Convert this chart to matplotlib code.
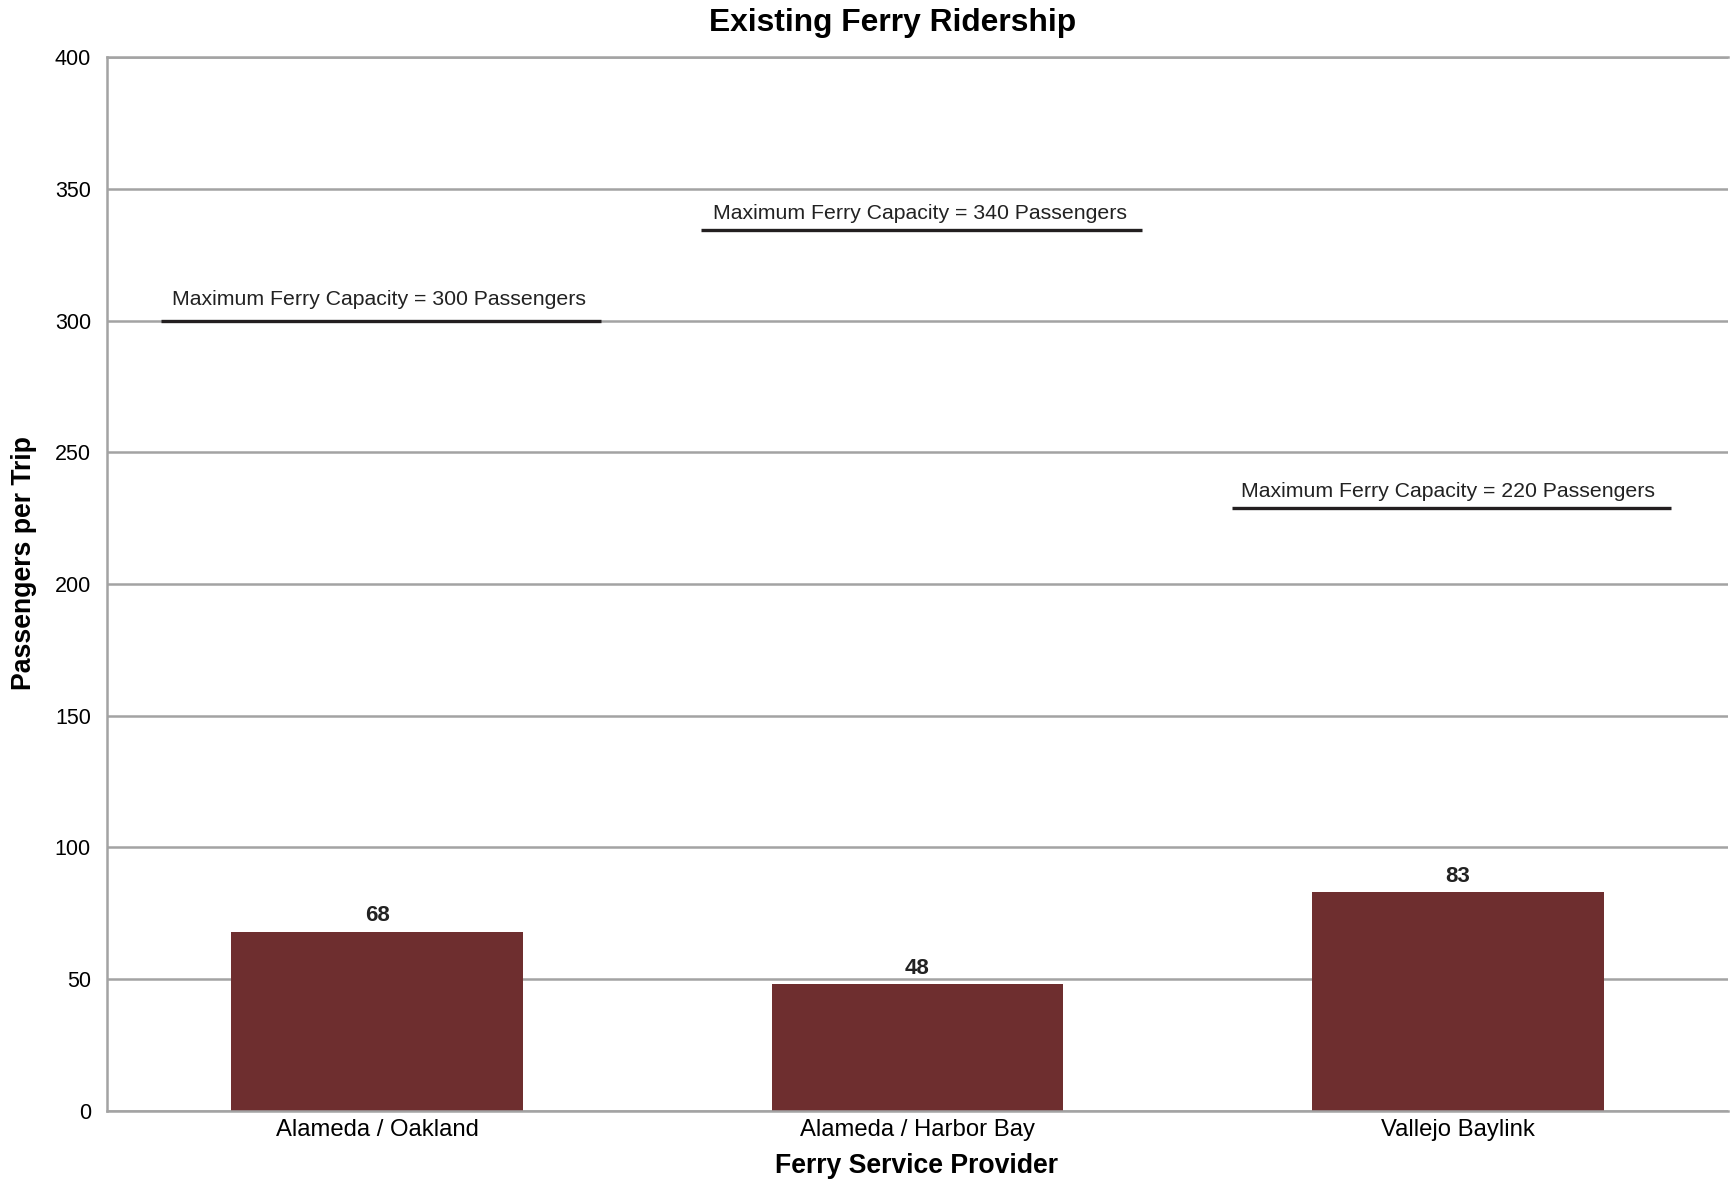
import numpy as np
import matplotlib
matplotlib.use("Agg")
import matplotlib.pyplot as plt

plt.rcParams['font.family'] = ['Liberation Sans', 'DejaVu Sans']

# data
providers = ["Alameda / Oakland", "Alameda / Harbor Bay", "Vallejo Baylink"]
riders = [68, 48, 83]

# capacity markers (label value, level the line is drawn at, line extent)
cap_values = [300, 340, 220]
cap_levels = [300, 334.5, 229]
cap_start = [-0.40, 0.60, 1.583]
cap_end = [0.415, 1.415, 2.395]
cap_text_x = [0.004, 1.004, 1.982]
cap_text_dy = [11, 7.5, 7.5]

bar_color = "#6e2e2f"
grid_color = "#a3a3a3"
ink = "#222222"

fig = plt.figure(figsize=(17.32, 11.80), dpi=100)
ax = fig.add_axes([0.0617, 0.0587, 0.9360, 0.8927])

x = np.arange(len(providers))
ax.bar(x, riders, width=0.54, color=bar_color, zorder=2)

for xi, v in zip(x, riders):
    ax.annotate(f"{v}", xy=(xi, v), xytext=(0, 7.5), textcoords="offset points",
                ha="center", va="baseline", fontsize=16, fontweight="bold", color=ink)

for val, lvl, x0, x1, tx, dy in zip(cap_values, cap_levels, cap_start, cap_end,
                                    cap_text_x, cap_text_dy):
    ax.plot([x0, x1], [lvl, lvl], color="#231f20", linewidth=2.4,
            solid_capstyle="butt", zorder=3)
    ax.annotate(f"Maximum Ferry Capacity = {val} Passengers", xy=(tx, lvl),
                xytext=(0, dy), textcoords="offset points",
                ha="center", va="baseline", fontsize=15.3, color=ink)

ax.set_xlim(-0.5, 2.5)
ax.set_ylim(0, 400)
ax.set_yticks(np.arange(0, 401, 50))
ax.set_xticks(x)
ax.set_xticklabels(providers)

ax.yaxis.grid(True, color=grid_color, linewidth=1.8)
ax.set_axisbelow(True)
for side in ["left", "bottom", "top"]:
    ax.spines[side].set_color(grid_color)
    ax.spines[side].set_linewidth(1.8)
ax.spines["right"].set_visible(False)

ax.tick_params(axis="y", length=0, pad=11.5, labelsize=15.5, labelcolor="black")
ax.tick_params(axis="x", length=0, pad=6, labelsize=17.2, labelcolor="black")

fig.text(893 / 1732, 1 - 23 / 1180, "Existing Ferry Ridership", ha="center", va="center",
         fontsize=22.9, fontweight="bold", color="black")
fig.text(24 / 1732, 1 - 563 / 1180, "Passengers per Trip", rotation=90, ha="center",
         va="center", fontsize=19.2, fontweight="bold", color="black")
fig.text(917 / 1732, 1 - 1166 / 1180, "Ferry Service Provider", ha="center", va="center",
         fontsize=19.2, fontweight="bold", color="black")

fig.savefig("out.png", dpi=100)
